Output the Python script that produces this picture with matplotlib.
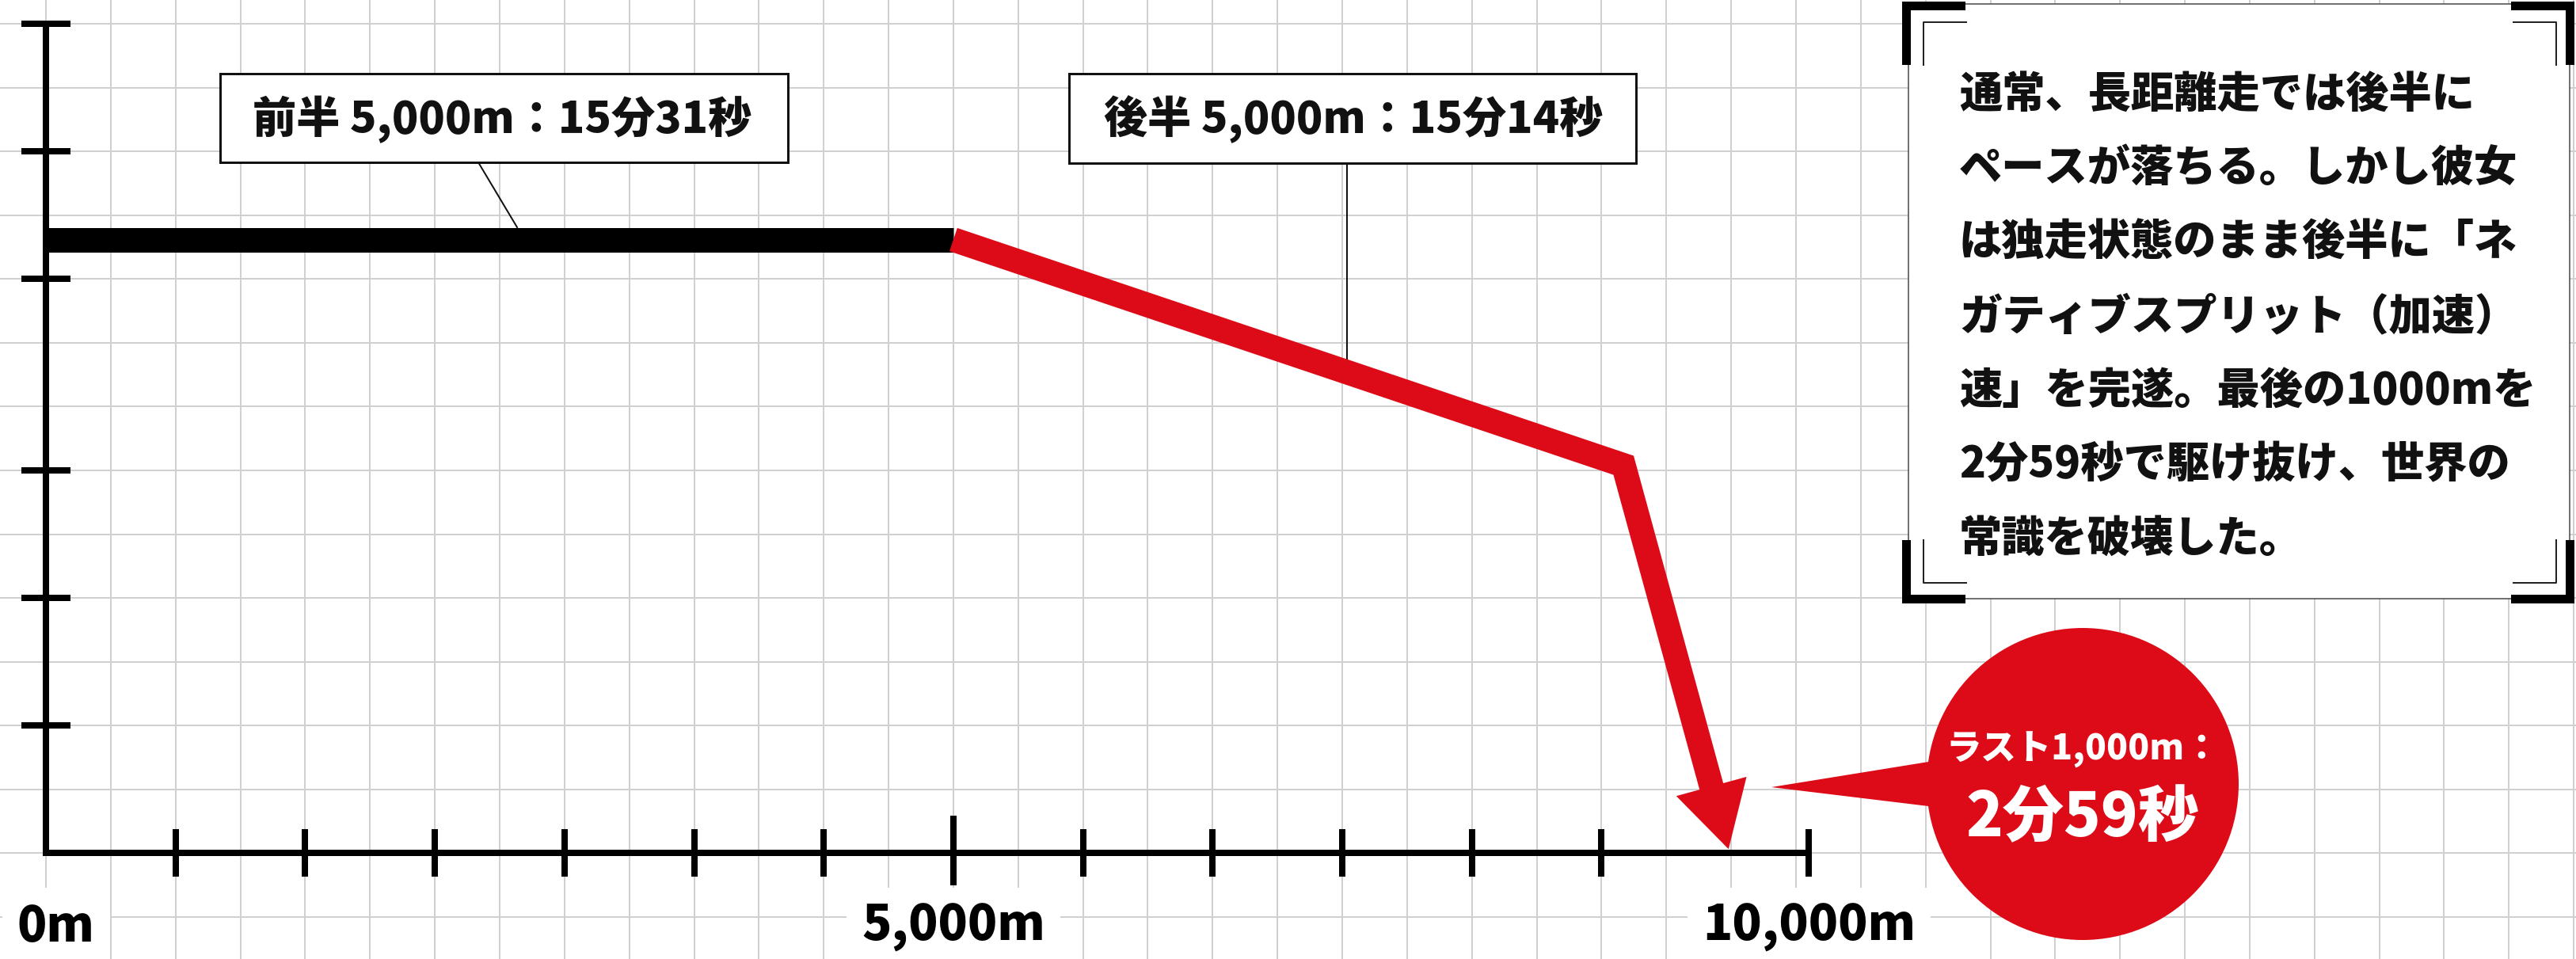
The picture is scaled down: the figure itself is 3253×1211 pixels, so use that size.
import matplotlib
matplotlib.use('Agg')
import matplotlib.pyplot as plt
import matplotlib.patches as mpatches
import matplotlib.transforms as mtransforms
import numpy as np

# ---------------- data ----------------
# positions in chart grid units (1 unit = one axis tick interval)
first_half_x = [0, 7]
first_half_y = [4.81, 4.81]
second_half_x = [7, 12.17, 12.98]
second_half_y = [4.81, 3.04, 0.03]

x_minor_ticks = [1, 2, 3, 4, 5, 6, 8, 9, 10, 11, 12]
x_mid_tick = [7]
x_axis_end = 13.6
y_ticks = [1, 2, 3, 4.5, 5.5, 6.5]

x_label_pos = [0, 7, 13.6]
x_labels = ['0m', '5,000m', '10,000m']

label_first = '前半 5,000m：15分31秒'
label_second = '後半 5,000m：15分14秒'
bubble_line1 = 'ラスト1,000m：'
bubble_line2 = '2分59秒'
note_lines = [
    '通常、長距離走では後半に',
    'ペースが落ちる。しかし彼女',
    'は独走状態のまま後半に「ネ',
    'ガティブスプリット（加速）',
    '速」を完遂。最後の1000mを',
    '2分59秒で駆け抜け、世界の',
    '常識を破壊した。',
]

# ---------------- style ----------------
W, H = 3253, 1211
DPI = 100
RED = '#dd0b17'
GRID = '#d0d0d0'
LAT = ['Liberation Sans Narrow', 'Noto Sans CJK JP', 'DejaVu Sans']
CJK = ['Noto Sans CJK JP', 'DejaVu Sans']
WEIGHT = 'heavy'
PT = 72.0 / DPI  # points per pixel

fig = plt.figure(figsize=(W / DPI, H / DPI), dpi=DPI, facecolor='white')
ax = fig.add_axes([0, 0, 1, 1])
UX, UY = 163.7, 161.0       # pixels per grid unit
OX, OY = 58, 1077           # origin in pixels (from top)
ax.set_xlim(-OX / UX, (W - OX) / UX)
ax.set_ylim(-(H - OY) / UY, OY / UY)
ax.set_facecolor('white')
for s in ax.spines.values():
    s.set_visible(False)
ax.set_xticks(np.arange(0, 20, 0.5))
ax.set_yticks(np.arange(-0.5, 7, 0.5))
ax.tick_params(length=0, labelbottom=False, labelleft=False)
ax.grid(True, color=GRID, lw=2.0 * PT, zorder=0)
ax.set_axisbelow(True)

renderer = fig.canvas.get_renderer()


def width_of(txt):
    return txt.get_window_extent(renderer=renderer).width


def fit(txt, target_px):
    """scale a text's font size so its rendered width matches target_px"""
    txt.set_fontsize(txt.get_fontsize() * target_px / width_of(txt))
    return txt


# pixel transform (x right, y down from top-left)
PX = mtransforms.Affine2D().scale(1, -1).translate(0, H)

# ---------------- axes ----------------
AXW = 8 * PT
ax.plot([0, x_axis_end], [0, 0], color='black', lw=AXW, solid_capstyle='projecting', zorder=5)
ax.plot([0, 0], [0, y_ticks[-1]], color='black', lw=AXW, solid_capstyle='projecting', zorder=5)
ax.plot(x_minor_ticks, [0] * len(x_minor_ticks), ls='none', marker='|', ms=60 * PT,
        mew=8 * PT, color='black', zorder=5)
ax.plot(x_mid_tick, [0.02], ls='none', marker='|', ms=88 * PT, mew=8 * PT, color='black', zorder=5)
ax.plot([x_axis_end], [0], ls='none', marker='|', ms=60 * PT, mew=8 * PT, color='black', zorder=5)
ax.plot([0] * len(y_ticks), y_ticks, ls='none', marker='_', ms=62 * PT, mew=8 * PT,
        color='black', zorder=5)

axis_texts = []
for i, (p, lab) in enumerate(zip(x_label_pos, x_labels)):
    ha = 'left' if i == 0 else 'center'
    dx = -36 if i == 0 else 0
    t = ax.annotate(lab, (p, 0), xytext=(dx, -94), textcoords='offset pixels',
                    ha=ha, va='center', fontsize=52, fontweight=WEIGHT, family=LAT,
                    color='black', zorder=4,
                    bbox=dict(facecolor='white', edgecolor='none', pad=16))
    axis_texts.append(t)
fit(axis_texts[1], 232)
for t in axis_texts:
    t.set_fontsize(axis_texts[1].get_fontsize())

# ---------------- lines ----------------
LW = 31 * PT
ax.plot(first_half_x, first_half_y, color='black', lw=LW, solid_capstyle='butt', zorder=7)

tip = ax.transData.transform((second_half_x[-1], second_half_y[-1]))
bend = ax.transData.transform((second_half_x[-2], second_half_y[-2]))
d = tip - bend
d = d / np.hypot(*d)
perp = np.array([-d[1], d[0]])
head_len, head_half = 82, 46
base = tip - d * head_len
line_end = ax.transData.inverted().transform(base + d * 8)
rx = second_half_x[:-1] + [line_end[0]]
ry = second_half_y[:-1] + [line_end[1]]
ax.plot(rx, ry, color=RED, lw=LW, solid_capstyle='butt', solid_joinstyle='miter', zorder=7)
head = mpatches.Polygon([tip, base + perp * head_half, base - perp * head_half], closed=True,
                        facecolor=RED, edgecolor='none', transform=mtransforms.IdentityTransform(),
                        zorder=7)
ax.add_patch(head)


# ---------------- label boxes ----------------
def label_box(x0, y0, w, h, text, tx, ty, leader):
    ax.add_patch(mpatches.Rectangle((x0, y0), w, h, transform=PX, facecolor='white',
                                    edgecolor='#111111', lw=3 * PT, zorder=4))
    t = ax.text(tx, ty, text, transform=PX, ha='center', va='center', fontsize=40,
                fontweight=WEIGHT, family=LAT, color='#111111', zorder=5)
    fit(t, 630)
    ax.plot(leader[0], leader[1], transform=PX, color='#111111', lw=2 * PT, zorder=3)


label_box(278, 93, 717, 112, label_first, 634, 151, ([604, 653], [205, 287]))
label_box(1350, 93, 716, 113, label_second, 1709, 151, ([1701, 1701], [206, 455]))

# ---------------- bubble ----------------
ax.add_patch(mpatches.Circle((2630, 990), 197, transform=PX, facecolor=RED, edgecolor='none', zorder=4))
ax.add_patch(mpatches.Polygon([(2237, 994), (2460, 958), (2460, 1021)], closed=True, transform=PX,
                              facecolor=RED, edgecolor='none', zorder=4))
b1 = ax.text(2630, 947, bubble_line1, transform=PX, ha='center', va='center', fontsize=36,
             fontweight=WEIGHT, family=LAT, color='white', zorder=5)
fit(b1, 345)
b2 = ax.text(2630, 1033, bubble_line2, transform=PX, ha='center', va='center', fontsize=60,
             fontweight=WEIGHT, family=LAT, color='white', zorder=5)
fit(b2, 295)

# ---------------- note box ----------------
ax.add_patch(mpatches.Rectangle((2410, 5), 835, 751, transform=PX, facecolor='white',
                                edgecolor='#444444', lw=1.5 * PT, zorder=4))
L, R, T, B = 2402, 3251, 2, 762
th, arm = 11, 80
for (x, y, w, h) in [
    (L, T, arm, th), (L, T, th, arm),
    (R - arm, T, arm, th), (R - th, T, th, arm),
    (L, B - th, arm, th), (L, B - arm, th, arm),
    (R - arm, B - th, arm, th), (R - th, B - arm, th, arm),
]:
    ax.add_patch(mpatches.Rectangle((x, y), w, h, transform=PX, facecolor='black',
                                    edgecolor='none', zorder=5))
iL, iR, iT, iB, ia = 2429, 3228, 28, 736, 54
for xs, ys in [
    ([iL, iL, iL + ia], [iT + ia, iT, iT]),
    ([iR - ia, iR, iR], [iT, iT, iT + ia]),
    ([iL, iL, iL + ia], [iB - ia, iB, iB]),
    ([iR - ia, iR, iR], [iB, iB, iB - ia]),
]:
    ax.plot(xs, ys, transform=PX, color='#222222', lw=2 * PT, zorder=5)

note_texts = []
for i, line in enumerate(note_lines):
    t = ax.text(2474, 119 + 93.7 * i, line, transform=PX, ha='left', va='center', fontsize=40,
                fontweight=WEIGHT, family=CJK, color='#111111', zorder=6)
    note_texts.append(t)
widest = max(width_of(t) for t in note_texts)
note_size = note_texts[0].get_fontsize() * 728 / widest
for t in note_texts:
    t.set_fontsize(note_size)

fig.savefig('out.png', dpi=DPI, facecolor='white')
